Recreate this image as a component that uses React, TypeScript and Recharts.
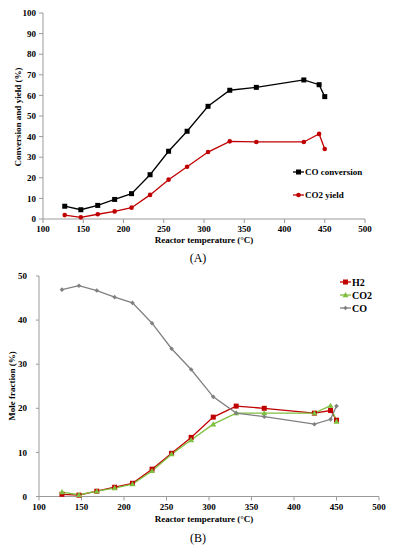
import React from 'react'
import { LineChart, Line, XAxis, YAxis, Legend } from 'recharts'

// reactor temperature (°C)
const temps = [127, 147, 168, 189, 210, 233, 256, 279, 305, 332, 365, 424, 443, 450]

// panel A
const coConversion = [6.2, 4.5, 6.6, 9.5, 12.3, 21.5, 32.9, 42.6, 54.7, 62.5, 63.9, 67.5, 65.2, 59.4]
const co2Yield = [1.9, 0.8, 2.3, 3.7, 5.5, 11.7, 19.1, 25.4, 32.5, 37.7, 37.4, 37.4, 41.3, 34.0]

// panel B
const h2Fraction = [0.5, 0.3, 1.2, 2.1, 3.0, 6.2, 9.8, 13.4, 18.0, 20.5, 20.0, 18.9, 19.5, 17.3]
const co2Fraction = [1.0, 0.4, 1.2, 1.9, 2.8, 5.8, 9.6, 12.8, 16.4, 18.9, 18.9, 18.9, 20.6, 17.0]
const coFraction = [46.9, 47.8, 46.7, 45.2, 43.9, 39.3, 33.5, 28.8, 22.6, 18.9, 18.1, 16.4, 17.5, 20.5]

const xTicks = [100, 150, 200, 250, 300, 350, 400, 450, 500]
const yTicksA = [0, 10, 20, 30, 40, 50, 60, 70, 80, 90, 100]
const yTicksB = [0, 10, 20, 30, 40, 50]

const dataA = temps.map((t, i) => ({ t, conv: coConversion[i], yld: co2Yield[i] }))
const dataB = temps.map((t, i) => ({ t, h2: h2Fraction[i], co2: co2Fraction[i], co: coFraction[i] }))

const RED = '#c00000'
const GREEN = '#7fbf3f'
const GRAY = '#808080'
const AXIS = '#9a9a9a'
const font = '"Liberation Serif", "Times New Roman", serif'
const tickStyle = { fontFamily: font, fontSize: 9, fontWeight: 'bold', fill: '#000' }

const mark = (kind: string, cx: number, cy: number, color: string, key?: any) => {
  if (kind === 'square') return <rect key={key} x={cx - 2.5} y={cy - 2.5} width={5} height={5} fill={color} />
  if (kind === 'circle') return <circle key={key} cx={cx} cy={cy} r={2.3} fill={color} />
  if (kind === 'tri') return <path key={key} d={`M${cx},${cy - 3} L${cx + 3},${cy + 2.2} L${cx - 3},${cy + 2.2} Z`} fill={color} />
  return <path key={key} d={`M${cx},${cy - 2.3} L${cx + 2.3},${cy} L${cx},${cy + 2.3} L${cx - 2.3},${cy} Z`} fill={color} />
}

const dotOf = (kind: string, color: string) => (p: any) => mark(kind, p.cx, p.cy, color, p.index)

const legendBox = (items: { name: string; kind: string; color: string }[], gap: number, size: number) => () => (
  <div style={{ fontFamily: font, fontSize: size, fontWeight: 'bold', color: '#000' }}>
    {items.map((it) => (
      <div key={it.name} style={{ display: 'flex', alignItems: 'center', height: 10, marginBottom: gap }}>
        <svg width={11} height={8} style={{ marginRight: 1 }}>
          <line x1={0} y1={4} x2={11} y2={4} stroke={it.color} strokeWidth={1.3} />
          {mark(it.kind, 5.5, 4, it.color)}
        </svg>
        <span>{it.name}</span>
      </div>
    ))}
  </div>
)

const Title = ({ x, y, text, rotate, size, bold }: any) => (
  <div
    style={{
      position: 'absolute', left: x, top: y, whiteSpace: 'nowrap',
      transform: `translate(-50%, -50%)${rotate ? ' rotate(-90deg)' : ''}`,
      fontFamily: font, fontSize: size || 9, fontWeight: bold === false ? 'normal' : 'bold', color: '#000',
    }}
  >
    {text}
  </div>
)

export default function App() {
  return (
    <div style={{ position: 'absolute', left: 0, top: 0, width: 396, height: 550, background: '#fff' }}>
      <div style={{ position: 'absolute', left: 0, top: 0 }}>
        <LineChart width={396} height={245} data={dataA} margin={{ top: 13, right: 31, left: 0, bottom: 0 }}>
          <XAxis dataKey="t" type="number" domain={[100, 500]} ticks={xTicks} height={26}
            stroke={AXIS} tickSize={4} tickMargin={3} tick={tickStyle} interval={0} />
          <YAxis type="number" domain={[0, 100]} ticks={yTicksA} width={43}
            stroke={AXIS} tickSize={4} tickMargin={3} tick={tickStyle} interval={0} />
          <Legend layout="horizontal" verticalAlign="middle" align="center"
            wrapperStyle={{ position: 'absolute', left: 293, top: 167, width: 100, height: 40 }}
            content={legendBox([
              { name: 'CO conversion', kind: 'square', color: '#000' },
              { name: 'CO2 yield', kind: 'circle', color: RED },
            ], 13, 9)} />
          <Line dataKey="conv" name="CO conversion" stroke="#000" strokeWidth={1.3}
            dot={dotOf('square', '#000')} isAnimationActive={false} />
          <Line dataKey="yld" name="CO2 yield" stroke={RED} strokeWidth={1.3}
            dot={dotOf('circle', RED)} isAnimationActive={false} />
        </LineChart>
      </div>
      <Title x={18} y={117} text="Conversion and yield (%)" rotate />
      <Title x={204} y={240} text="Reactor temperature (°C)" />
      <Title x={198} y={258} text="(A)" size={12} bold={false} />

      <div style={{ position: 'absolute', left: 0, top: 250 }}>
        <LineChart width={396} height={275} data={dataB} margin={{ top: 26, right: 17, left: 0, bottom: 0 }}>
          <XAxis dataKey="t" type="number" domain={[100, 500]} ticks={xTicks} height={28.5}
            stroke={AXIS} tickSize={4} tickMargin={3.5} tick={tickStyle} interval={0} />
          <YAxis type="number" domain={[0, 50]} ticks={yTicksB} width={39}
            stroke={AXIS} tickSize={3} tickMargin={9} tick={tickStyle} interval={0} />
          <Legend layout="horizontal" verticalAlign="middle" align="center"
            wrapperStyle={{ position: 'absolute', left: 340, top: 27, width: 56, height: 45 }}
            content={legendBox([
              { name: 'H2', kind: 'square', color: RED },
              { name: 'CO2', kind: 'tri', color: GREEN },
              { name: 'CO', kind: 'diamond', color: GRAY },
            ], 3, 10)} />
          <Line dataKey="h2" name="H2" stroke={RED} strokeWidth={1.3}
            dot={dotOf('square', RED)} isAnimationActive={false} />
          <Line dataKey="co2" name="CO2" stroke={GREEN} strokeWidth={1.3}
            dot={dotOf('tri', GREEN)} isAnimationActive={false} />
          <Line dataKey="co" name="CO" stroke={GRAY} strokeWidth={1.3}
            dot={dotOf('diamond', GRAY)} isAnimationActive={false} />
        </LineChart>
      </div>
      <Title x={12} y={386} text="Mole fraction (%)" rotate />
      <Title x={204} y={519} text="Reactor temperature (°C)" />
      <Title x={198} y={538} text="(B)" size={12} bold={false} />
    </div>
  )
}
